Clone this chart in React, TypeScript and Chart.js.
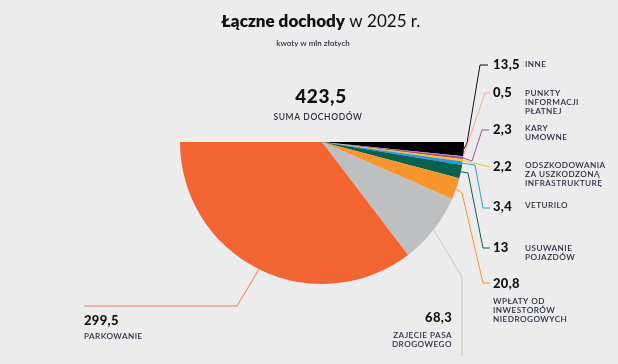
import React, { useEffect, useRef } from "react";
import Chart from "chart.js/auto";

const categories: string[][] = [
  ["INNE"],
  ["PUNKTY", "INFORMACJI", "PŁATNEJ"],
  ["KARY", "UMOWNE"],
  ["ODSZKODOWANIA", "ZA USZKODZONĄ", "INFRASTRUKTURĘ"],
  ["VETURILO"],
  ["USUWANIE", "POJAZDÓW"],
  ["WPŁATY OD", "INWESTORÓW", "NIEDROGOWYCH"],
  ["ZAJĘCIE PASA", "DROGOWEGO"],
  ["PARKOWANIE"],
];
const values: number[] = [13.5, 0.5, 2.3, 2.2, 3.4, 13, 20.8, 68.3, 299.5];
const colors: string[] = [
  "#000000",
  "#f3a7a2",
  "#a3509a",
  "#f7c21e",
  "#2b9bd7",
  "#0b6150",
  "#f7962f",
  "#bebfc1",
  "#f26532",
];
const leaderColors: string[] = [
  "#111111",
  "#f5aaa5",
  "#a3509a",
  "#f7c21e",
  "#2b9bd7",
  "#0b6150",
  "#f7962f",
  "#c4c5c7",
  "#f47d55",
];
const titleBold = "Łączne dochody";
const titleNormal = " w 2025 r.";
const subtitle = "kwoty w mln złotych";
const totalLabel = "SUMA DOCHODÓW";

// layout only (label placement and leader elbows)
type Lay = {
  pts: number[][];
  vx: number;
  vy: number;
  lx: number;
  ly: number;
  align: CanvasTextAlign;
};
const layout: Lay[] = [
  { pts: [[467, 143], [480, 65], [488, 65]], vx: 493, vy: 65, lx: 525, ly: 64, align: "left" },
  { pts: [[485, 93], [490, 93]], vx: 493, vy: 93, lx: 525, ly: 93, align: "left" },
  { pts: [[472, 161], [482, 130], [489, 130]], vx: 493, vy: 130, lx: 525, ly: 128, align: "left" },
  { pts: [[490, 167]], vx: 493, vy: 167, lx: 525, ly: 165, align: "left" },
  { pts: [[475, 165], [483, 208], [490, 208]], vx: 493, vy: 207, lx: 525, ly: 205, align: "left" },
  { pts: [[468, 173], [483, 248], [490, 248]], vx: 493, vy: 248, lx: 525, ly: 248, align: "left" },
  { pts: [[462, 193], [483, 283], [490, 283]], vx: 493, vy: 284, lx: 493, ly: 301, align: "left" },
  { pts: [[462, 277], [462, 356]], vx: 452, vy: 318, lx: 452, ly: 335, align: "right" },
  { pts: [[237, 306], [84, 306]], vx: 84, vy: 321, lx: 84, ly: 336, align: "left" },
];

const fmt = (v: number) => String(Math.round(v * 10) / 10).replace(".", ",");

const FONT = "Lato, 'Open Sans', sans-serif";
const NAVY = "#2c2f45";

const labelsPlugin = {
  id: "labelsPlugin",
  afterDraw(chart: any) {
    const ctx: CanvasRenderingContext2D = chart.ctx;
    const meta = chart.getDatasetMeta(0);
    ctx.save();
    // title
    ctx.textBaseline = "middle";
    ctx.font = `800 17px ${FONT}`;
    const wb = ctx.measureText(titleBold).width;
    ctx.font = `400 17px ${FONT}`;
    const wn = ctx.measureText(titleNormal).width;
    const tx = 321 - (wb + wn) / 2;
    ctx.fillStyle = "#111";
    ctx.textAlign = "left";
    ctx.font = `800 17px ${FONT}`;
    ctx.fillText(titleBold, tx, 22);
    ctx.font = `400 17px ${FONT}`;
    ctx.fillText(titleNormal, tx + wb, 22);
    ctx.font = `600 8px ${FONT}`;
    ctx.fillStyle = NAVY;
    ctx.textAlign = "center";
    ctx.fillText(subtitle, 313, 43);

    // total
    const total = values.reduce((a, b) => a + b, 0);
    ctx.font = `900 19px ${FONT}`;
    ctx.fillStyle = "#111";
    (ctx as any).letterSpacing = "0.6px";
    ctx.fillText(fmt(total), 321, 97);
    (ctx as any).letterSpacing = "0.6px";
    ctx.font = `600 8.5px ${FONT}`;
    ctx.fillStyle = NAVY;
    ctx.fillText(totalLabel, 318, 117);
    (ctx as any).letterSpacing = "0px";

    meta.data.forEach((arc: any, i: number) => {
      const p = arc.getProps(["x", "y", "startAngle", "endAngle", "outerRadius"], true);
      const mid = (p.startAngle + p.endAngle) / 2;
      const sx = p.x + Math.cos(mid) * p.outerRadius;
      const sy = p.y + Math.sin(mid) * p.outerRadius;
      const lay = layout[i];
      ctx.beginPath();
      ctx.strokeStyle = leaderColors[i];
      ctx.lineWidth = 1;
      ctx.moveTo(sx, sy);
      lay.pts.forEach((pt) => ctx.lineTo(pt[0], pt[1]));
      ctx.stroke();

      ctx.textAlign = lay.align;
      ctx.textBaseline = "middle";
      ctx.fillStyle = "#111";
      ctx.font = `900 13px ${FONT}`;
      (ctx as any).letterSpacing = "0.3px";
      ctx.fillText(fmt(values[i]), lay.vx, lay.vy);
      ctx.font = `600 8.2px ${FONT}`;
      (ctx as any).letterSpacing = "0.45px";
      ctx.fillStyle = NAVY;
      categories[i].forEach((line, k) => {
        ctx.fillText(line, lay.lx, lay.ly + k * 9.3);
      });
      (ctx as any).letterSpacing = "0px";
    });
    ctx.restore();
  },
};

export default function App() {
  const ref = useRef<HTMLCanvasElement>(null);
  useEffect(() => {
    if (!ref.current) return;
    const chart = new Chart(ref.current, {
      type: "pie",
      data: {
        labels: categories.map((c) => c.join(" ")),
        datasets: [
          {
            data: values,
            backgroundColor: colors,
            borderWidth: 0,
          },
        ],
      },
      options: {
        responsive: false,
        animation: false,
        rotation: 90,
        circumference: 180,
        layout: { padding: { left: 180, right: 154, top: 142, bottom: 80 } },
        plugins: {
          legend: { display: false },
          tooltip: { enabled: false },
          title: { display: false },
        },
      },
      plugins: [labelsPlugin],
    });
    return () => chart.destroy();
  }, []);
  return (
    <div
      style={{
        position: "fixed",
        left: 0,
        top: 0,
        width: 618,
        height: 364,
        background: "#ebeceb",
      }}
    >
      <canvas ref={ref} width={618} height={364} style={{ width: 618, height: 364 }} />
    </div>
  );
}
